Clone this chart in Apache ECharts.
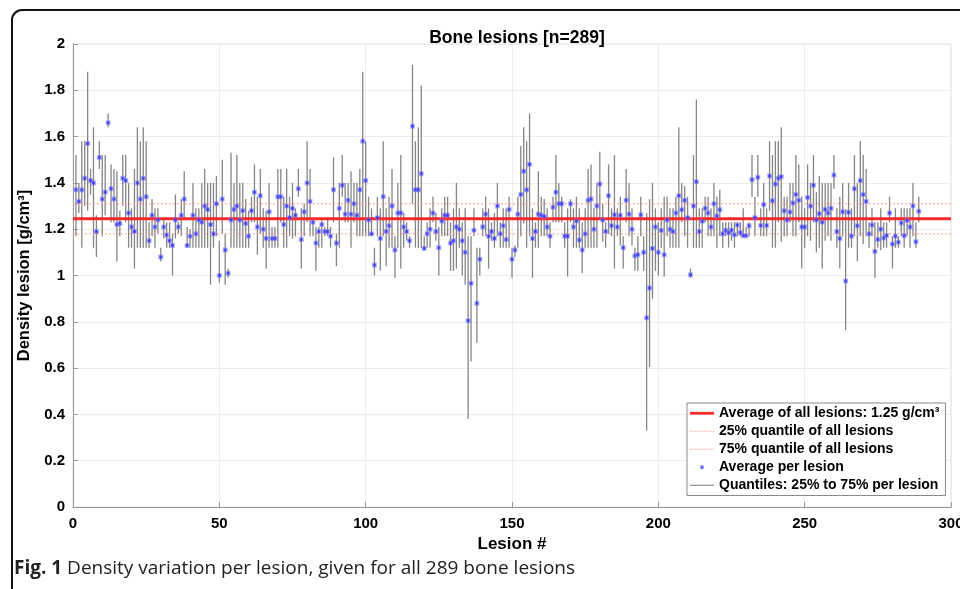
<!DOCTYPE html>
<html>
<head>
<meta charset="utf-8">
<script src="https://cdn.jsdelivr.net/npm/echarts@6/dist/echarts.min.js"></script>
<style>
html,body{margin:0;padding:0;background:#fff;}
#chart{width:960px;height:589px;}
</style>
</head>
<body>
<div id="chart"></div>
<script>
// ---- data ----
const lesionMean = [
1.37,1.32,1.37,1.42,1.57,1.41,1.40,1.19,1.51,1.33,
1.36,1.66,1.375,1.33,1.22,1.225,1.42,1.41,1.27,1.21,
1.19,1.40,1.33,1.42,1.34,1.15,1.26,1.21,1.24,1.08,
1.21,1.175,1.15,1.13,1.24,1.21,1.26,1.33,1.13,1.17,
1.26,1.18,1.24,1.23,1.30,1.285,1.22,1.18,1.31,1.00,
1.33,1.11,1.01,1.24,1.285,1.30,1.24,1.28,1.225,1.17,
1.28,1.36,1.21,1.345,1.20,1.16,1.275,1.16,1.16,1.34,
1.34,1.22,1.30,1.25,1.29,1.26,1.375,1.155,1.275,1.40,
1.32,1.23,1.14,1.19,1.22,1.19,1.19,1.17,1.37,1.14,
1.29,1.39,1.265,1.325,1.265,1.31,1.26,1.37,1.58,1.41,
1.24,1.18,1.045,1.25,1.16,1.34,1.19,1.215,1.30,1.11,
1.27,1.27,1.21,1.19,1.15,1.645,1.37,1.37,1.44,1.117,
1.18,1.20,1.27,1.19,1.12,1.235,1.26,1.26,1.14,1.15,
1.21,1.20,1.15,1.10,0.805,0.966,1.195,0.88,1.07,1.21,
1.265,1.17,1.19,1.16,1.30,1.18,1.215,1.155,1.285,1.07,
1.11,1.265,1.35,1.45,1.37,1.48,1.16,1.19,1.265,1.26,
1.255,1.21,1.17,1.295,1.36,1.31,1.31,1.17,1.17,1.31,
1.21,1.235,1.153,1.11,1.18,1.325,1.33,1.20,1.30,1.395,
1.24,1.19,1.345,1.215,1.262,1.21,1.26,1.12,1.325,1.265,
1.20,1.085,1.09,1.262,1.10,0.817,0.946,1.117,1.21,1.10,
1.195,1.09,1.24,1.20,1.19,1.27,1.345,1.284,1.325,1.25,
1.003,1.30,1.405,1.19,1.234,1.29,1.27,1.21,1.31,1.257,
1.284,1.18,1.195,1.185,1.196,1.176,1.218,1.185,1.172,1.172,
1.215,1.414,1.25,1.424,1.216,1.306,1.216,1.43,1.323,1.395,
1.42,1.427,1.28,1.24,1.274,1.313,1.35,1.325,1.21,1.21,
1.337,1.30,1.39,1.24,1.267,1.23,1.285,1.27,1.29,1.434,
1.19,1.16,1.275,0.976,1.273,1.17,1.375,1.215,1.41,1.35,
1.32,1.18,1.218,1.104,1.156,1.20,1.162,1.173,1.27,1.136,
1.17,1.144,1.227,1.172,1.238,1.21,1.30,1.146,1.278
];
const lesionQ75 = [
1.52,1.40,1.58,1.58,1.88,1.46,1.64,1.26,1.58,1.52,
1.52,1.70,1.48,1.46,1.45,1.28,1.52,1.52,1.40,1.29,
1.46,1.64,1.58,1.64,1.58,1.23,1.33,1.29,1.29,1.12,
1.24,1.23,1.23,1.18,1.35,1.23,1.33,1.45,1.21,1.20,
1.40,1.29,1.29,1.40,1.46,1.40,1.40,1.40,1.43,1.15,
1.50,1.18,1.03,1.53,1.40,1.52,1.40,1.40,1.33,1.28,
1.34,1.48,1.34,1.46,1.29,1.28,1.40,1.21,1.21,1.46,
1.46,1.34,1.46,1.34,1.40,1.29,1.46,1.29,1.31,1.58,
1.46,1.25,1.21,1.21,1.25,1.21,1.25,1.21,1.51,1.18,
1.40,1.52,1.40,1.40,1.45,1.40,1.40,1.46,1.88,1.58,
1.34,1.29,1.12,1.34,1.29,1.58,1.29,1.34,1.46,1.17,
1.40,1.52,1.27,1.23,1.17,1.91,1.58,1.64,1.82,1.17,
1.23,1.29,1.34,1.27,1.21,1.29,1.34,1.34,1.23,1.29,
1.40,1.29,1.23,1.29,1.17,1.17,1.29,1.12,1.12,1.29,
1.34,1.29,1.23,1.27,1.40,1.23,1.29,1.29,1.34,1.12,
1.13,1.34,1.56,1.64,1.58,1.70,1.29,1.23,1.45,1.34,
1.33,1.29,1.23,1.34,1.52,1.40,1.34,1.23,1.29,1.33,
1.29,1.34,1.29,1.23,1.29,1.46,1.48,1.29,1.40,1.535,
1.31,1.23,1.48,1.29,1.52,1.29,1.34,1.17,1.46,1.40,
1.29,1.12,1.17,1.34,1.17,1.27,1.33,1.40,1.29,1.23,
1.29,1.34,1.34,1.29,1.29,1.34,1.64,1.40,1.386,1.34,
1.03,1.52,1.76,1.29,1.29,1.34,1.34,1.29,1.40,1.34,
1.37,1.23,1.23,1.23,1.23,1.23,1.23,1.23,1.29,1.21,
1.23,1.52,1.34,1.52,1.29,1.40,1.29,1.58,1.52,1.58,
1.58,1.64,1.34,1.34,1.40,1.40,1.52,1.48,1.34,1.29,
1.48,1.40,1.52,1.36,1.43,1.40,1.40,1.40,1.40,1.52,
1.29,1.34,1.40,1.285,1.40,1.29,1.52,1.40,1.58,1.52,
1.46,1.23,1.29,1.23,1.23,1.29,1.23,1.23,1.34,1.17,
1.29,1.17,1.29,1.29,1.29,1.29,1.40,1.23,1.34
];
const lesionQ25 = [
1.17,1.27,1.12,1.30,1.28,1.35,1.12,1.08,1.46,1.17,
1.26,1.64,1.23,1.23,1.06,1.17,1.30,1.23,1.12,1.12,
1.03,1.12,1.12,1.12,1.12,1.12,1.17,1.12,1.18,1.06,
1.16,1.12,1.12,1.00,1.16,1.18,1.17,1.24,1.12,1.12,
1.12,1.12,1.12,1.12,1.12,1.12,0.96,1.12,1.17,0.97,
1.18,0.96,0.99,1.12,1.12,1.12,1.12,1.12,1.12,1.12,
1.23,1.23,1.09,1.18,1.12,1.03,1.12,1.12,1.12,1.12,
1.23,1.12,1.12,1.17,1.16,1.17,1.34,1.03,1.17,1.23,
1.17,1.17,1.02,1.12,1.12,1.17,1.17,1.12,1.23,1.04,
1.12,1.34,1.23,1.23,1.12,1.23,1.17,1.17,1.17,1.17,
1.17,1.17,1.00,1.17,1.02,1.17,1.04,1.12,1.12,0.99,
1.12,1.03,1.12,1.15,1.12,1.31,1.12,1.12,1.12,1.11,
1.12,1.12,1.23,1.15,1.00,1.17,1.17,1.17,1.02,1.02,
1.03,1.12,1.00,0.96,0.38,0.63,1.17,0.71,1.00,1.17,
1.17,1.03,1.15,1.12,1.17,1.12,1.12,1.12,1.12,0.99,
1.08,1.12,1.17,1.225,1.12,1.17,0.99,1.12,1.12,1.17,
1.17,1.17,1.12,1.23,1.23,1.23,1.23,1.12,0.995,1.23,
1.12,1.12,1.12,1.01,1.12,1.12,1.12,1.12,1.12,1.24,
1.146,1.12,1.18,1.17,1.03,1.17,1.13,1.03,1.23,1.17,
1.13,1.02,1.02,1.17,1.02,0.33,0.605,0.90,1.02,1.00,
1.12,0.995,1.17,1.12,1.12,1.12,1.12,1.23,1.17,1.12,
0.99,1.12,1.12,1.12,1.12,1.23,1.17,1.17,1.17,1.12,
1.17,1.12,1.17,1.12,1.15,1.12,1.17,1.17,1.17,1.17,
1.17,1.34,1.17,1.34,1.17,1.17,1.17,1.28,1.12,1.12,
1.23,1.146,1.17,1.17,1.23,1.17,1.17,1.23,1.03,1.12,
1.17,1.15,1.23,1.10,1.12,1.03,1.15,1.17,1.15,1.375,
1.12,1.03,1.17,0.764,1.12,1.12,1.17,1.06,1.17,1.136,
1.17,1.12,1.17,0.99,1.12,1.11,1.12,1.12,1.23,1.03,
1.12,1.12,1.17,1.12,1.17,1.12,1.17,1.12,1.23
];
const overallMean = 1.245;
const overallQ25 = 1.18;
const overallQ75 = 1.31;
const xRange = [0, 300];
const yRange = [0, 2];

const legendNames = [
  'Average of all lesions: 1.25 g/cm³',
  '25% quantile of all lesions',
  '75% quantile of all lesions',
  'Average per lesion',
  'Quantiles: 25% to 75% per lesion'
];

// ---- build series data ----
const lesionIdx = lesionMean.map((_, i) => i + 1);
const meanPts = lesionIdx.map((x, i) => [x, lesionMean[i]]);
const rangePts = lesionIdx.map((x, i) => [x, lesionQ25[i], lesionQ75[i]]);

// ---- legend icon shapes (24x6 box) ----
const BOX = 'M0,0M24,6';
let dots = '';
for (let k = 0; k < 24; k += 2.4) dots += 'M' + k + ',2.6H' + (k + 1.1) + 'V3.4H' + k + 'Z';
const iconThick = 'path://' + BOX + 'M0,1.6H24V4.4H0Z';
const iconDotted = 'path://' + BOX + dots;
const iconThin = 'path://' + BOX + 'M0,2.5H24V3.5H0Z';
const iconStar = 'path://' + BOX + 'M10,2.5H14V3.5H10Z M11.5,1H12.5V5H11.5Z M10.4,1.5L11,1L13.6,4.5L13,5Z M13,1L13.6,1.5L11,5L10.4,4.5Z';

const FONT = '"Liberation Sans", Arial, Helvetica, sans-serif';
const CAPFONT = '"Open Sans", "Noto Sans", sans-serif';
const chart = echarts.init(document.getElementById('chart'), null, {renderer: 'canvas'});

chart.setOption({
  animation: false,
  backgroundColor: '#fff',
  title: {
    text: 'Bone lesions [n=289]',
    left: 512, top: 24, textAlign: 'center',
    textStyle: {fontFamily: FONT, fontWeight: 'bold', fontSize: 17.5, color: '#000'}
  },
  grid: {left: 73, right: 9, top: 44, bottom: 82, show: true, borderColor: '#e2e2e2', borderWidth: 1,
    outerBoundsMode: 'none', containLabel: false},
  xAxis: {
    type: 'value', min: xRange[0], max: xRange[1], interval: 50,
    name: 'Lesion #', nameLocation: 'middle', nameGap: 27,
    nameTextStyle: {fontFamily: FONT, fontWeight: 'bold', fontSize: 17, color: '#000'},
    axisLine: {show: true, lineStyle: {color: '#9a9a9a', width: 1}},
    axisTick: {show: true, inside: true, length: 5, lineStyle: {color: '#9a9a9a'}},
    axisLabel: {fontFamily: FONT, fontWeight: 'bold', fontSize: 15, color: '#000', margin: 9, hideOverlap: false},
    splitLine: {show: true, lineStyle: {color: '#ececec', width: 1}}
  },
  yAxis: {
    type: 'value', min: yRange[0], max: yRange[1], interval: 0.2,
    name: 'Density lesion [g/cm³]', nameLocation: 'middle', nameGap: 37, nameRotate: 90,
    nameTextStyle: {fontFamily: FONT, fontWeight: 'bold', fontSize: 16.5, color: '#000'},
    axisLine: {show: true, lineStyle: {color: '#9a9a9a', width: 1}},
    axisTick: {show: true, inside: true, length: 5, lineStyle: {color: '#9a9a9a'}},
    axisLabel: {fontFamily: FONT, fontWeight: 'bold', fontSize: 15, color: '#000', margin: 8,
      formatter: v => (Math.round(v * 10) / 10).toString()},
    splitLine: {show: true, lineStyle: {color: '#ececec', width: 1}}
  },
  legend: {
    orient: 'vertical', left: 687, top: 403,
    backgroundColor: '#fff', borderColor: '#8a8a8a', borderWidth: 1,
    padding: [3, 6, 3, 3], itemGap: 3.5, itemWidth: 24, itemHeight: 6,
    textStyle: {fontFamily: FONT, fontWeight: 'bold', fontSize: 14, color: '#000', lineHeight: 14.5},
    data: [
      {name: legendNames[0], icon: iconThick, itemStyle: {color: '#ff2b2b', borderWidth: 0}},
      {name: legendNames[1], icon: iconDotted, itemStyle: {color: '#ff8c8c', borderWidth: 0}},
      {name: legendNames[2], icon: iconDotted, itemStyle: {color: '#ff8c8c', borderWidth: 0}},
      {name: legendNames[3], icon: iconStar, itemStyle: {color: '#3a3aff', borderWidth: 0}},
      {name: legendNames[4], icon: iconThin, itemStyle: {color: '#7a7a7a', borderWidth: 0}}
    ],
    selectedMode: false
  },
  graphic: [
    {
      type: 'rect', silent: true, z: 100,
      shape: {x: 12, y: 10, width: 1100, height: 800, r: [10, 0, 0, 0]},
      style: {fill: 'none', stroke: '#111', lineWidth: 2}
    },
    {
      type: 'text', x: 14, y: 569, z: 100,
      style: {
        text: '{b|Fig. 1} Density variation per lesion, given for all 289 bone lesions',
        verticalAlign: 'middle',
        fontFamily: CAPFONT, fontSize: 19, fill: '#222',
        rich: {b: {fontFamily: CAPFONT, fontSize: 19, fontWeight: 'bold', fill: '#222'}}
      }
    }
  ],
  series: [
    {
      type: 'custom', name: 'quantileBars', z: 2,
      renderItem: function (params, api) {
        const x = api.value(0);
        const p1 = api.coord([x, api.value(1)]);
        const p2 = api.coord([x, api.value(2)]);
        return {type: 'line', shape: {x1: p1[0], y1: p1[1], x2: p2[0], y2: p2[1]},
          style: {stroke: '#858585', lineWidth: 1.3}};
      },
      encode: {x: 0, y: [1, 2]},
      data: rangePts
    },
    {
      type: 'line', name: legendNames[0], z: 3, symbol: 'none', silent: true,
      lineStyle: {color: '#ff2b2b', width: 3}, itemStyle: {color: '#ff2b2b'},
      data: [[xRange[0], overallMean], [xRange[1], overallMean]]
    },
    {
      type: 'line', name: legendNames[1], z: 3, symbol: 'none', silent: true,
      lineStyle: {color: '#ff9a9a', width: 1, type: [2, 2]}, itemStyle: {color: '#ff9a9a'},
      data: [[xRange[0], overallQ25], [xRange[1], overallQ25]]
    },
    {
      type: 'line', name: legendNames[2], z: 3, symbol: 'none', silent: true,
      lineStyle: {color: '#ff9a9a', width: 1, type: [2, 2]}, itemStyle: {color: '#ff9a9a'},
      data: [[xRange[0], overallQ75], [xRange[1], overallQ75]]
    },
    {
      type: 'scatter', name: legendNames[3], z: 5, symbol: 'rect', symbolSize: 3,
      itemStyle: {color: '#1a1aee', borderColor: 'rgba(110,110,255,0.6)', borderWidth: 2},
      data: meanPts
    },
    {
      type: 'line', name: legendNames[4], symbol: 'none',
      lineStyle: {color: '#858585', width: 1}, itemStyle: {color: '#858585'},
      data: []
    }
  ]
});
</script>
</body>
</html>
